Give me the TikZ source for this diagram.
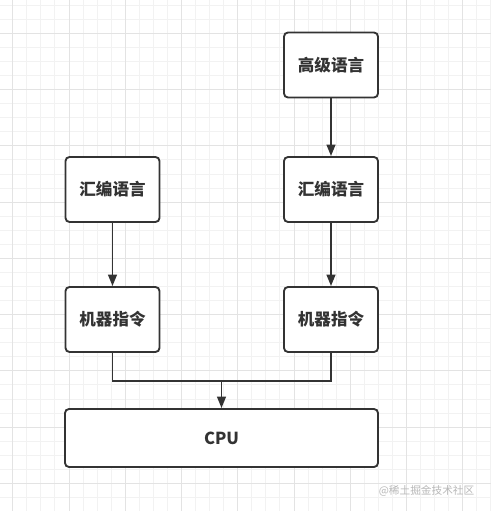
\documentclass[tikz,border=0pt]{standalone}
\usepackage{fontspec}
\setmainfont{Noto Sans CJK SC}
\usetikzlibrary{arrows.meta,backgrounds}

\definecolor{gridminor}{HTML}{F2F2F2}
\definecolor{gridmajor}{HTML}{E3E3E3}
\definecolor{ink}{HTML}{333333}
\definecolor{stampgray}{HTML}{B8B8B8}

\tikzset{
    langbox/.style={draw=ink, line width=1.4pt, rounded corners=3pt, fill=white,
        minimum width=70.5pt, minimum height=48.75pt, text=ink,
        font=\fontsize{12.4}{14}\selectfont\bfseries},
    flow/.style={draw=ink, line width=1.4pt, -{Triangle[length=8.5pt,width=6.5pt]}},
    mergeline/.style={draw=ink, line width=1.4pt}
}

\begin{document}
\begin{tikzpicture}[x=0.75pt, y=-0.75pt]
    \useasboundingbox (0,0) rectangle (491,511);

    % grid background
    \begin{scope}[on background layer]
        \fill [white] (0,0) rectangle (491,511);
        \foreach \i in {0,...,36} {
            \draw[gridminor, line width=0.6pt] ({-1.36+14.0625*\i},0) -- ({-1.36+14.0625*\i},511);
            \draw[gridminor, line width=0.6pt] (0,{5.18+14.0625*\i}) -- (491,{5.18+14.0625*\i});
        }
        \foreach \i in {0,...,8} {
            \draw[gridmajor, line width=0.6pt] ({12.7+56.25*\i},0) -- ({12.7+56.25*\i},511);
            \draw[gridmajor, line width=0.6pt] (0,{33.3+56.25*\i}) -- (491,{33.3+56.25*\i});
        }
    \end{scope}

    % boxes
    \node[langbox] (high) at (331,65) {高级语言};
    \node[langbox] (asmR) at (331,189.5) {汇编语言};
    \node[langbox] (asmL) at (112.5,189.5) {汇编语言};
    \node[langbox] (machR) at (331,319.5) {机器指令};
    \node[langbox] (machL) at (112.5,319.5) {机器指令};
    \node[langbox, minimum width=234.75pt, minimum height=43.5pt] (cpu) at (221.5,438) {CPU};

    % arrows
    \draw[flow] (high) -- (asmR);
    \draw[flow] (asmR) -- (machR);
    \draw[flow] (asmL) -- (machL);

    % merge into cpu
    \coordinate (merge) at (221.5,381);
    \draw[mergeline] (machL.south) |- (merge) -| (machR.south);
    \draw[flow] (merge) -- (cpu.north);

    % watermark
    \node[text=stampgray, font=\fontsize{8}{10}\selectfont, anchor=east] (stamp) at (479,491) {@稀土掘金技术社区};

\end{tikzpicture}
\end{document}
